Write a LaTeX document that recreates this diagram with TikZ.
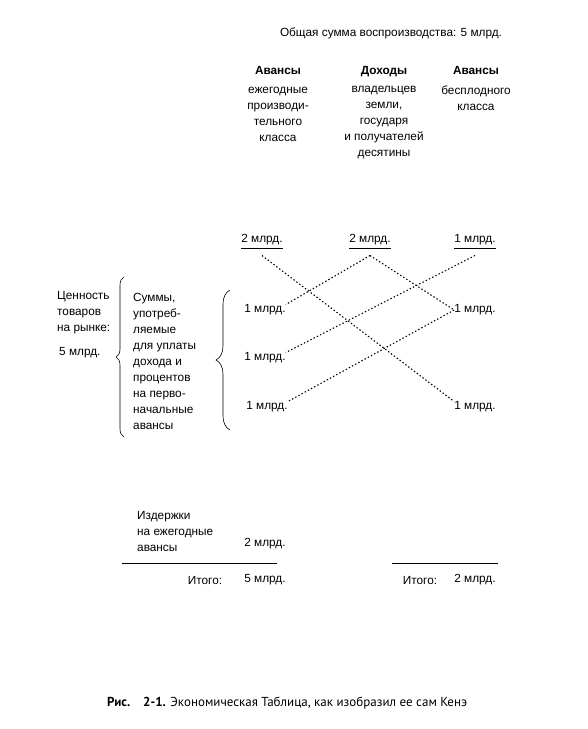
\documentclass[tikz,border=0pt]{standalone}
\usepackage{fontspec}
\setmainfont{Liberation Sans}
\newfontfamily\capfont{PT Sans}
\usetikzlibrary{decorations.pathreplacing}

\begin{document}
\begin{tikzpicture}[
    x=1pt, y=-1pt,
    txt/.style={inner sep=0pt, font=\fontsize{11.8}{16}\selectfont},
    head/.style={inner sep=0pt, font=\fontsize{11.8}{16}\selectfont\bfseries},
    col/.style={txt, align=center},
    lcol/.style={txt, align=left, anchor=west},
    flow/.style={line width=1.1pt, dash pattern=on 1.4pt off 2.2pt},
    rule/.style={line width=0.7pt},
    curly/.style={decorate, decoration={brace, amplitude=#1}, line width=0.6pt}
  ]
    \useasboundingbox (0,0) rectangle (588,729);
    % heading and columns
    \node[txt] (title) at (391,33) {Общая сумма воспроизводства: 5 млрд.};
    \node[head, anchor=base] (h1) at (278,74) {Авансы};
    \node[col] (c1) at (278,114.5) {ежегодные\\производи-\\тельного\\класса};
    \node[head, anchor=base] (h2) at (384,74) {Доходы};
    \node[col] (c2) at (384,122.5) {владельцев\\земли,\\государя\\и получателей\\десятины};
    \node[head, anchor=base] (h3) at (476,74) {Авансы};
    \node[col] (c3) at (476,98.5) {бесплодного\\класса};
    % values
    \node[txt] (ta) at (262,240) {2 млрд.};
    \node[txt] (tb) at (370,240) {2 млрд.};
    \node[txt] (tc) at (475,240) {1 млрд.};
    \node[txt] (la) at (265,310) {1 млрд.};
    \node[txt] (lb) at (265,358) {1 млрд.};
    \node[txt] (lc) at (267,407) {1 млрд.};
    \node[txt] (ra) at (475,310) {1 млрд.};
    \node[txt] (rb) at (475,407) {1 млрд.};
    \foreach \n in {ta,tb,tc}
      \draw[rule] ([yshift=-3pt]\n.south west) -- ([yshift=-3pt]\n.south east);
    % left side
    \node[lcol] (worth) at (57,313) {Ценность\\товаров\\на рынке:};
    \node[lcol] (worthv) at (59,353) {5 млрд.};
    \node[lcol] (sums) at (133,361) {Суммы,\\употреб-\\ляемые\\для уплаты\\дохода и\\процентов\\на перво-\\начальные\\авансы};
    \draw[curly=8] (124,437) -- (124,277);
    \draw[curly=14] (230,430) -- (230,290);
    % flows
    \draw[flow] ([yshift=-10pt]ta.south) -- (rb.north west);
    \draw[flow] ([yshift=-10pt]tb.south) -- (la.north east);
    \draw[flow] ([yshift=-10pt]tb.south) -- (ra.west);
    \draw[flow] ([yshift=-10pt]tc.south) -- (lb.north east);
    \draw[flow] (ra.west) -- (lc.north east);
    % totals
    \node[lcol] (costs) at (137,531) {Издержки\\на ежегодные\\авансы};
    \node[txt] (costv) at (265,544) {2 млрд.};
    \draw[rule] (122,563) -- (277,563);
    \draw[rule] (392,563) -- (498,563);
    \node[txt] (tot1) at (205,580) {Итого:};
    \node[txt] (tot1v) at (265,580) {5 млрд.};
    \node[txt] (tot2) at (420,580) {Итого:};
    \node[txt] (tot2v) at (475,580) {2 млрд.};
    % caption
    \node[txt, anchor=west] (cap) at (107,703) {\capfont\fontsize{13}{15}\selectfont\textbf{Рис.\quad 2-1.} Экономическая Таблица, как изобразил ее сам Кенэ};
  \end{tikzpicture}
\end{document}
